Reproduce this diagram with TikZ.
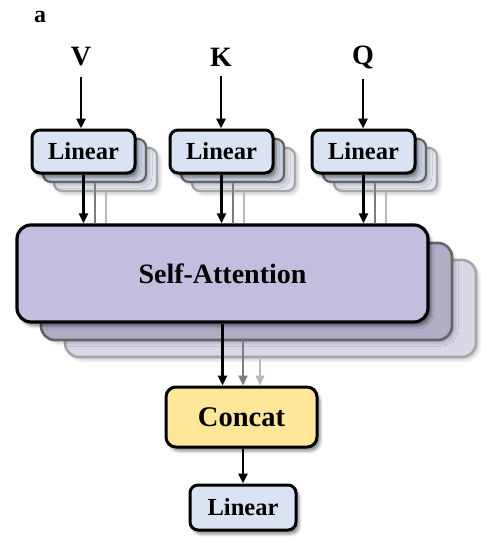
\documentclass[tikz,border=0pt]{standalone}
\usepackage{fontspec}
\setmainfont{Liberation Serif}
\usetikzlibrary{shadows.blur,arrows.meta}
\definecolor{linfill}{RGB}{218,227,243}
\definecolor{linfillb}{RGB}{200,208,224}
\definecolor{linfillc}{RGB}{226,230,238}
\definecolor{safill}{RGB}{196,190,222}
\definecolor{safillb}{RGB}{178,173,198}
\definecolor{safillc}{RGB}{218,215,230}
\definecolor{ccfill}{RGB}{255,230,153}
\definecolor{grayb}{RGB}{100,100,105}
\definecolor{grayc}{RGB}{165,165,170}
\definecolor{arrb}{RGB}{125,125,125}
\definecolor{arrc}{RGB}{185,185,185}
\begin{document}
\begin{tikzpicture}[x=1pt,y=-1pt,
  shad/.style={blur shadow={shadow xshift=3pt,shadow yshift=-4pt,shadow blur radius=3pt,shadow opacity=45}},
  shadl/.style={blur shadow={shadow xshift=3pt,shadow yshift=-3pt,shadow blur radius=3pt,shadow opacity=20}},
  boxbase/.style={rounded corners=8pt,inner sep=0pt,shad},
  copybase/.style={rounded corners=8pt,inner sep=0pt,shadl},
  lin/.style={boxbase,draw=black,line width=3pt,fill=linfill,minimum width=103pt,minimum height=43pt,font=\fontsize{24.5}{24.5}\selectfont\bfseries},
  linb/.style={copybase,draw=grayb,line width=2.2pt,fill=linfillb,minimum width=103pt,minimum height=43pt},
  linc/.style={copybase,draw=grayc,line width=2.2pt,fill=linfillc,minimum width=103pt,minimum height=43pt},
  sab/.style={copybase,rounded corners=14pt,draw=grayb,line width=2.6pt,fill=safillb,minimum width=411pt,minimum height=97pt},
  sac/.style={copybase,rounded corners=14pt,draw=grayc,line width=2.6pt,fill=safillc,minimum width=411pt,minimum height=97pt},
  letter/.style={font=\fontsize{28}{28}\selectfont\bfseries,inner sep=0pt},
  arr/.style={line width=2.6pt,-{Triangle[length=10pt,width=9pt]}},
  arrg/.style={line width=2.2pt,draw=arrb,-{Triangle[length=10pt,width=9pt]},color=arrb},
  arrl/.style={line width=2.2pt,draw=arrc,-{Triangle[length=10pt,width=9pt]},color=arrc},
  lineg/.style={line width=2pt,draw=arrb},
  linel/.style={line width=2pt,draw=arrc}
]
\useasboundingbox (0,0) rectangle (490,551);

\node[font=\fontsize{24}{24}\selectfont\bfseries,inner sep=0pt] (lbla) at (40,17) {a};

% input letters
\node[letter] (V) at (81,57) {V};
\node[letter] (K) at (221,57) {K};
\node[letter] (Q) at (363,57) {Q};

% linear stacks
\foreach \n/\x in {v/83.5,k/221.5,q/363.5}{
  \node[linc] (l\n3) at (\x+22,169.5) {};
  \node[linb] (l\n2) at (\x+11,160.5) {};
}
\node[lin] (lv) at (83.5,151.5) {Linear};
\node[lin] (lk) at (221.5,151.5) {Linear};
\node[lin] (lq) at (363.5,151.5) {Linear};

\draw[arr] (V.south) ++(0,10) coordinate (vs) -- (vs |- lv.north);
\draw[arr] (K.south) ++(0,10) coordinate (ks) -- (ks |- lk.north);
\draw[arr] (Q.south) ++(0,10) coordinate (qs) -- (qs |- lq.north);

% self-attention stack
\node[sac] (sa3) at (270.5,308.5) {};
\node[sab] (sa2) at (246.5,291.5) {};
\node[boxbase,rounded corners=14pt,draw=black,line width=3.2pt,fill=safill,minimum width=411pt,minimum height=97pt,font=\fontsize{28}{28}\selectfont\bfseries] (sa) at (222.5,273.5) {Self-Attention};

\foreach \n in {v,k,q}{
  \draw[linel] (l\n3.south) -- (l\n3.south |- sa.north);
  \draw[lineg] (l\n2.south) -- (l\n2.south |- sa.north);
  \draw[arr] (l\n.south) -- (l\n.south |- sa.north);
}

% concat
\node[boxbase,draw=black,line width=3pt,fill=ccfill,minimum width=151pt,minimum height=60pt,rounded corners=10pt,font=\fontsize{28.5}{28.5}\selectfont\bfseries] (cc) at (241.5,417) {Concat};

\coordinate (o2) at (243,340);
\coordinate (o3) at (260,357);
\draw[arrl] (o3) -- (o3 |- cc.north);
\draw[arrg] (o2) -- (o2 |- cc.north);
\draw[arr] (sa.south) -- (sa.south |- cc.north);

% final linear
\node[lin,minimum width=106pt,minimum height=45pt] (lo) at (243,507.5) {Linear};
\draw[arr] (cc.south -| lo.north) -- (lo.north);
\end{tikzpicture}
\end{document}
